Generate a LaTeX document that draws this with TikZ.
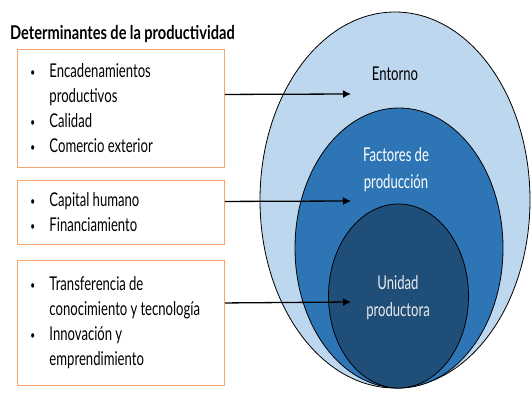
\documentclass[tikz,border=0pt]{standalone}
\usepackage{fontspec}
\setmainfont{Lato}[FakeStretch=0.69,WordSpace=0.95]
\newfontfamily\titlefont{Lato}[FakeStretch=0.77,WordSpace=0.95]
\usetikzlibrary{arrows.meta}
\definecolor{outerblue}{HTML}{BDD7EE}
\definecolor{midblue}{HTML}{2E75B6}
\definecolor{innerblue}{HTML}{1F4E79}
\definecolor{boxorange}{HTML}{F5A66E}
\newcommand{\bl}[1]{\makebox[19pt][l]{\raisebox{1pt}{\fontsize{12}{12}\selectfont\textbullet}}#1}
\newcommand{\ct}[1]{\hspace*{19pt}#1}
\tikzset{
  detbox/.style={draw=boxorange, line width=0.9pt, anchor=north west, inner xsep=13pt, inner ysep=0pt,
    text width=181pt, align=flush left, font=\fontsize{19}{25}\selectfont},
  ring/.style={draw=black, line width=0.8pt},
  conn/.style={line width=1.3pt, -{Latex[length=8pt,width=8pt]}},
  lbl/.style={font=\fontsize{19}{27}\selectfont, align=center}
}
\begin{document}
\begin{tikzpicture}[x=1pt,y=-1pt]
\useasboundingbox (0,0) rectangle (531,394);
\fill[white] (0,0) rectangle (531,394);
% ellipses
\filldraw[ring, fill=outerblue] (395,200) ellipse [x radius=135pt, y radius=188pt];
\filldraw[ring, fill=midblue] (399,248) ellipse [x radius=104pt, y radius=140pt];
\filldraw[ring, fill=innerblue] (398.5,296) ellipse [x radius=70pt, y radius=92pt];
\node[lbl, text=black] (entorno) at (395,74) {Entorno};
\node[lbl, text=white] (factores) at (396,170) {Factores de\\producción};
\node[lbl, text=white!92!black] (unidad) at (398,298) {Unidad\\productora};
% title
\node[anchor=base west, inner sep=0pt, font=\titlefont\bfseries\fontsize{19}{22}\selectfont] (title) at (10,39) {Determinantes de la productividad};
% boxes
\node[detbox, minimum height=118pt] (b1) at (17,49)
  {\bl{Encadenamientos}\\\ct{productivos}\\\bl{Calidad}\\\bl{Comercio exterior}};
\node[detbox, minimum height=64pt] (b2) at (17,180)
  {\bl{Capital humano}\\\bl{Financiamiento}};
\node[detbox, minimum height=125pt] (b3) at (17,260)
  {\bl{Transferencia de}\\\ct{conocimiento y tecnología}\\\bl{Innovación y}\\\ct{emprendimiento}};
% arrow targets
\coordinate (t1) at (351,94);
\coordinate (t2) at (351,201);
\coordinate (t3) at (351,302);
\draw[conn] ([yshift=14pt]b1.east) -- (t1);
\draw[conn] ([yshift=11pt]b2.east) -- (t2);
\draw[conn] ([yshift=20pt]b3.east) -- (t3);
\end{tikzpicture}
\end{document}
